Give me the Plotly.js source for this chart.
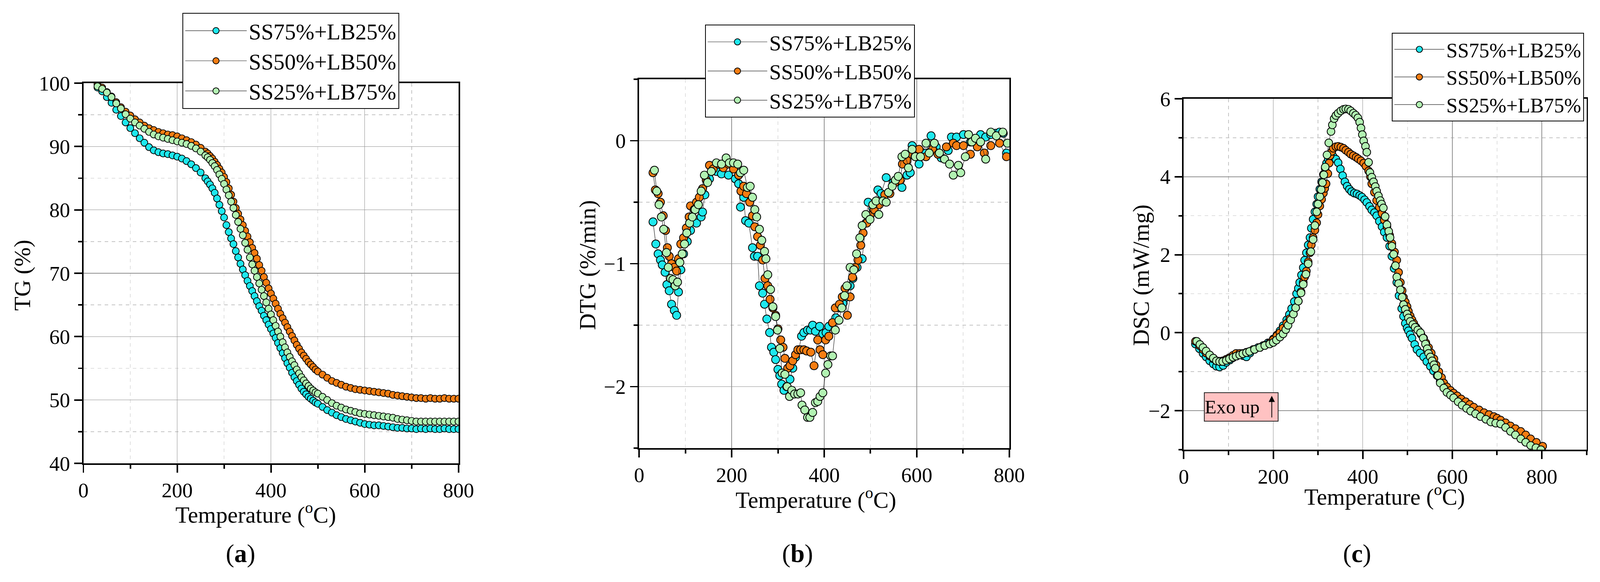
<!DOCTYPE html>
<html>
<head>
<meta charset="utf-8">
<script src="https://cdn.plot.ly/plotly-3.0.1.min.js"></script>
<style>
  html, body { margin: 0; padding: 0; background: white; overflow: hidden; }
  #chart { width: 100vw; height: 100vh; }
</style>
</head>
<body>
<div id="chart"></div>
<script>
// series names and colours
const seriesNames = ['SS75%+LB25%', 'SS50%+LB50%', 'SS25%+LB75%'];
const seriesColors = ['#1ee8ee', '#f57d12', '#b2f2b2'];

// (a) TG curves, shared temperature column
const tgT = [30, 40, 50, 60, 70, 80, 90, 100, 110, 120, 130, 140, 150, 160, 170, 180, 190, 200, 210, 220, 230, 240, 250,
  260, 265, 270, 275, 280, 285, 290, 295, 300, 305, 310, 315, 320, 325, 330, 335, 340, 345, 350, 355, 360, 365, 370, 375,
  380, 385, 390, 395, 400, 405, 410, 415, 420, 425, 430, 435, 440, 445, 450, 455, 460, 465, 470, 475, 480, 485, 490, 495, 500,
  510, 520, 530, 540, 550, 560, 570, 580, 590, 600, 610, 620, 630, 640, 650, 660, 670, 680, 690, 700,
  710, 720, 730, 740, 750, 760, 770, 780, 790, 800];
const tgSS75 = [99.3, 98.7, 97.8, 96.9, 95.8, 94.8, 93.8, 92.9, 92.1, 91.3, 90.6, 89.9, 89.4, 89.1, 88.9, 88.8, 88.6, 88.4, 88.1, 87.7, 87.2, 86.6, 85.9,
  85.0, 84.5, 84.0, 83.4, 82.7, 81.8, 80.8, 79.8, 78.8, 77.6, 76.5, 75.5, 74.6, 73.5, 72.5, 71.5, 70.6, 69.7, 68.8, 68.0, 67.2, 66.4, 65.6, 64.8,
  64.1, 63.3, 62.6, 61.9, 61.2, 60.5, 59.8, 59.0, 58.2, 57.4, 56.6, 55.8, 55.1, 54.3, 53.6, 53.0, 52.4, 51.8, 51.3, 50.9, 50.5, 50.2, 49.9, 49.6, 49.4,
  48.9, 48.4, 48.0, 47.6, 47.3, 47.0, 46.8, 46.6, 46.4, 46.2, 46.1, 46.0, 46.0, 45.9, 45.8, 45.7, 45.6, 45.6, 45.5, 45.5,
  45.4, 45.5, 45.4, 45.5, 45.4, 45.4, 45.5, 45.4, 45.4, 45.4];
const tgSS50 = [99.8, 99.3, 98.6, 97.9, 97.0, 96.2, 95.5, 94.9, 94.3, 93.8, 93.3, 92.9, 92.6, 92.3, 92.1, 91.9, 91.8, 91.6, 91.3, 91.0, 90.7, 90.3, 89.8,
  89.2, 88.9, 88.5, 88.1, 87.6, 87.1, 86.5, 85.9, 85.2, 84.4, 83.4, 82.4, 81.3, 80.3, 79.4, 78.5, 77.6, 76.7, 75.8, 74.9, 74.0, 73.2, 72.3, 71.3,
  70.4, 69.4, 68.5, 67.6, 66.8, 66.0, 65.2, 64.4, 63.6, 62.9, 62.2, 61.5, 60.8, 60.1, 59.4, 58.7, 58.1, 57.5, 57.0, 56.5, 56.0, 55.6, 55.2, 54.8, 54.5,
  54.0, 53.5, 53.0, 52.7, 52.4, 52.1, 51.9, 51.7, 51.6, 51.5, 51.4, 51.3, 51.2, 51.1, 51.0, 50.8, 50.7, 50.6, 50.5, 50.4,
  50.3, 50.3, 50.2, 50.3, 50.2, 50.2, 50.3, 50.2, 50.2, 50.2];
const tgSS25 = [99.5, 99.1, 98.5, 97.8, 96.8, 96.0, 95.1, 94.4, 93.8, 93.3, 92.8, 92.3, 91.9, 91.6, 91.4, 91.2, 91.0, 90.8, 90.6, 90.4, 90.1, 89.7, 89.2,
  88.6, 88.3, 87.9, 87.4, 86.9, 86.3, 85.6, 84.9, 84.1, 83.2, 82.3, 81.3, 80.3, 79.2, 78.1, 77.0, 76.0, 74.8, 73.7, 72.5, 71.4, 70.4, 69.4, 68.4,
  67.4, 66.4, 65.4, 64.4, 63.5, 62.6, 61.7, 60.8, 60.0, 59.1, 58.3, 57.5, 56.8, 56.1, 55.5, 54.8, 54.2, 53.6, 53.1, 52.6, 52.2, 51.8, 51.5, 51.2, 51.0,
  50.5, 50.0, 49.5, 49.1, 48.8, 48.5, 48.3, 48.1, 47.9, 47.8, 47.7, 47.6, 47.5, 47.4, 47.3, 47.2, 47.0, 46.9, 46.8, 46.7,
  46.6, 46.6, 46.6, 46.6, 46.6, 46.6, 46.6, 46.6, 46.6, 46.6];

// (b) DTG points, [temperature, value]
const dtgSS75 = [[30, -0.66], [36, -0.84], [41, -0.92], [46, -0.97], [50, -1.01], [56, -1.07], [60, -1.17], [65, -1.22], [70, -1.33], [76, -1.38],
  [81, -1.42], [85, -1.23], [90, -1.05], [96, -0.92], [104, -0.82], [111, -0.73], [124, -0.67], [134, -0.62], [137, -0.58], [142, -0.44],
  [152, -0.31], [167, -0.25], [178, -0.27], [193, -0.28], [208, -0.31], [215, -0.35], [219, -0.54], [226, -0.46], [230, -0.65], [237, -0.67],
  [245, -0.87], [249, -0.94], [256, -0.94], [260, -1.18], [267, -1.24], [271, -1.33], [276, -1.45], [282, -1.56], [286, -1.68], [291, -1.72],
  [295, -1.78], [300, -1.86], [304, -1.91], [308, -1.98], [313, -2.03], [319, -2.00], [326, -1.94], [332, -1.85], [338, -1.76], [345, -1.70],
  [351, -1.59], [356, -1.56], [364, -1.54], [370, -1.54], [375, -1.50], [381, -1.55], [390, -1.51], [397, -1.57], [404, -1.56], [410, -1.51],
  [418, -1.48], [425, -1.44], [434, -1.36], [441, -1.32], [449, -1.27], [456, -1.18], [462, -1.12], [471, -1.03], [482, -0.96], [490, -0.67],
  [495, -0.50], [505, -0.55], [516, -0.40], [523, -0.43], [534, -0.30], [549, -0.34], [560, -0.31], [568, -0.38], [579, -0.28], [586, -0.26],
  [590, -0.04], [605, -0.19], [620, -0.10], [631, 0.04], [642, -0.05], [653, -0.14], [668, -0.08], [675, 0.03], [686, 0.03], [701, 0.05],
  [716, -0.01], [727, 0.02], [738, 0.05], [749, 0.03], [760, 0.05], [770, 0.06], [779, 0.07], [787, 0.06], [794, -0.10]];
const dtgSS50 = [[30, -0.26], [35, -0.40], [41, -0.43], [46, -0.50], [52, -0.61], [57, -0.73], [61, -0.87], [65, -0.94], [70, -1.00], [76, -1.03],
  [81, -1.06], [85, -0.96], [90, -0.84], [96, -0.79], [102, -0.71], [108, -0.62], [111, -0.53], [119, -0.56], [124, -0.50], [130, -0.46],
  [137, -0.39], [145, -0.32], [152, -0.20], [160, -0.23], [171, -0.19], [182, -0.22], [193, -0.19], [204, -0.23], [215, -0.28], [220, -0.41],
  [226, -0.37], [232, -0.43], [239, -0.50], [245, -0.61], [250, -0.70], [256, -0.78], [262, -0.85], [267, -0.97], [272, -1.12], [278, -1.18],
  [283, -1.29], [289, -1.36], [295, -1.42], [300, -1.53], [306, -1.62], [311, -1.68], [315, -1.77], [321, -1.85], [326, -1.83], [332, -1.79],
  [338, -1.74], [343, -1.70], [349, -1.70], [356, -1.70], [362, -1.71], [371, -1.72], [378, -1.83], [386, -1.62], [391, -1.70], [397, -1.74],
  [403, -1.62], [410, -1.59], [418, -1.48], [424, -1.36], [433, -1.33], [439, -1.27], [445, -1.20], [450, -1.42], [456, -1.27], [461, -1.11],
  [467, -1.03], [473, -0.97], [479, -0.85], [484, -0.75], [492, -0.67], [499, -0.61], [508, -0.56], [519, -0.52], [531, -0.44], [542, -0.43],
  [553, -0.34], [564, -0.32], [569, -0.19], [579, -0.16], [590, -0.11], [605, -0.07], [620, -0.13], [634, -0.07], [646, -0.11], [664, -0.05],
  [679, -0.02], [686, -0.04], [701, -0.04], [716, -0.11], [731, -0.05], [746, -0.10], [760, -0.04], [779, -0.02], [794, -0.13]];
const dtgSS25 = [[33, -0.24], [38, -0.41], [43, -0.52], [48, -0.62], [53, -0.72], [59, -0.91], [63, -1.03], [68, -1.12], [73, -1.13], [78, -1.18],
  [83, -1.15], [88, -0.99], [93, -0.92], [98, -0.84], [103, -0.75], [109, -0.67], [115, -0.62], [121, -0.56], [128, -0.52], [134, -0.41],
  [141, -0.28], [148, -0.34], [156, -0.25], [167, -0.18], [178, -0.19], [188, -0.14], [195, -0.18], [204, -0.18], [213, -0.19], [219, -0.26],
  [226, -0.24], [234, -0.38], [240, -0.37], [245, -0.46], [250, -0.56], [254, -0.62], [260, -0.72], [265, -0.81], [271, -0.90], [274, -0.96],
  [278, -1.09], [284, -1.21], [289, -1.35], [295, -1.43], [299, -1.54], [304, -1.69], [309, -1.89], [315, -1.90], [320, -2.00], [325, -2.08],
  [330, -2.03], [336, -2.06], [343, -2.06], [349, -2.05], [352, -2.15], [358, -2.19], [364, -2.25], [369, -2.25], [375, -2.21], [381, -2.13],
  [386, -2.12], [391, -2.08], [397, -2.05], [403, -1.89], [408, -1.82], [414, -1.75], [418, -1.75], [424, -1.54], [432, -1.46], [438, -1.36],
  [444, -1.26], [449, -1.18], [456, -1.03], [464, -1.05], [470, -0.92], [477, -0.79], [482, -0.69], [490, -0.60], [499, -0.64], [505, -0.52],
  [512, -0.49], [518, -0.60], [527, -0.49], [534, -0.50], [539, -0.42], [547, -0.37], [554, -0.32], [560, -0.29], [568, -0.13], [575, -0.11],
  [582, -0.22], [590, -0.07], [597, -0.13], [608, -0.13], [620, -0.02], [627, -0.10], [638, -0.02], [649, -0.10], [660, -0.15], [671, -0.19],
  [679, -0.28], [690, -0.20], [695, -0.26], [705, -0.13], [712, 0.05], [719, -0.01], [727, 0.02], [738, -0.01], [749, -0.15], [760, 0.07],
  [772, 0.04], [786, 0.07], [796, -0.02]];

// (c) DSC points, [temperature, value]
const dscSS75 = [[26, -0.29], [35, -0.41], [43, -0.53], [50, -0.62], [58, -0.72], [66, -0.80], [73, -0.86], [80, -0.88], [88, -0.84], [95, -0.76],
  [103, -0.70], [110, -0.64], [118, -0.60], [125, -0.57], [133, -0.59], [140, -0.62], [148, -0.52], [155, -0.43], [166, -0.38], [177, -0.33],
  [188, -0.26], [200, -0.16], [208, -0.06], [215, 0.05], [222, 0.18], [230, 0.33], [236, 0.47], [241, 0.62], [247, 0.80], [252, 1.00],
  [256, 1.14], [259, 1.29], [263, 1.48], [267, 1.67], [270, 1.86], [274, 2.05], [278, 2.25], [282, 2.44], [285, 2.68], [289, 2.91],
  [293, 3.10], [297, 3.30], [300, 3.49], [304, 3.68], [308, 3.87], [312, 4.06], [316, 4.22], [319, 4.35], [323, 4.45], [327, 4.50],
  [334, 4.52], [340, 4.45], [345, 4.36], [350, 4.20], [355, 4.03], [360, 3.87], [365, 3.76], [370, 3.68], [375, 3.62], [381, 3.58],
  [387, 3.56], [393, 3.52], [398, 3.48], [404, 3.41], [409, 3.34], [415, 3.24], [420, 3.15], [426, 3.08], [431, 3.00], [437, 2.86],
  [443, 2.72], [448, 2.58], [454, 2.44], [460, 2.22], [465, 1.96], [470, 1.65], [476, 1.29], [481, 0.95], [487, 0.62], [491, 0.42],
  [495, 0.24], [499, 0.12], [502, 0.05], [506, -0.05], [510, -0.14], [516, -0.30], [521, -0.43], [528, -0.52], [536, -0.62], [543, -0.74],
  [551, -0.86], [558, -0.98], [566, -1.10], [573, -1.24], [581, -1.38], [588, -1.47], [596, -1.55], [611, -1.67], [630, -1.82], [648, -1.95],
  [671, -2.10], [693, -2.22], [708, -2.29], [730, -2.45], [753, -2.60], [775, -2.78], [800, -2.95]];
const dscSS50 = [[26, -0.22], [35, -0.33], [43, -0.43], [50, -0.52], [58, -0.60], [66, -0.67], [73, -0.72], [80, -0.73], [87, -0.72], [95, -0.68],
  [102, -0.64], [110, -0.58], [117, -0.53], [125, -0.53], [132, -0.53], [140, -0.50], [147, -0.48], [158, -0.43], [170, -0.38], [181, -0.32],
  [192, -0.26], [200, -0.18], [208, -0.08], [215, 0.00], [222, 0.12], [230, 0.24], [237, 0.36], [245, 0.48], [250, 0.64], [256, 0.81],
  [262, 1.05], [267, 1.29], [270, 1.43], [274, 1.58], [278, 1.82], [282, 2.05], [285, 2.25], [289, 2.44], [293, 2.63], [297, 2.82],
  [300, 3.03], [304, 3.25], [308, 3.42], [312, 3.58], [315, 3.70], [318, 3.82], [322, 4.08], [325, 4.35], [327, 4.54], [331, 4.65],
  [334, 4.73], [340, 4.77], [345, 4.78], [351, 4.76], [357, 4.73], [362, 4.68], [368, 4.63], [373, 4.58], [379, 4.54], [385, 4.50],
  [390, 4.46], [396, 4.41], [402, 4.35], [407, 4.27], [413, 4.15], [417, 4.00], [420, 3.82], [426, 3.60], [431, 3.39], [437, 3.22],
  [443, 3.06], [448, 2.89], [454, 2.72], [460, 2.50], [465, 2.29], [471, 2.07], [476, 1.86], [480, 1.55], [484, 1.29], [488, 1.08],
  [491, 0.91], [495, 0.79], [499, 0.67], [502, 0.55], [506, 0.43], [510, 0.33], [514, 0.24], [519, 0.14], [525, 0.05], [530, -0.04],
  [536, -0.14], [541, -0.26], [547, -0.38], [553, -0.52], [559, -0.67], [564, -0.83], [570, -1.00], [576, -1.15], [581, -1.29], [588, -1.39],
  [596, -1.48], [603, -1.55], [611, -1.62], [620, -1.70], [630, -1.77], [639, -1.84], [648, -1.91], [660, -1.98], [671, -2.05], [682, -2.10],
  [693, -2.15], [700, -2.19], [708, -2.24], [719, -2.31], [730, -2.39], [741, -2.46], [753, -2.53], [764, -2.62], [775, -2.72], [788, -2.81],
  [802, -2.91]];
const dscSS25 = [[29, -0.22], [36, -0.30], [43, -0.38], [50, -0.47], [58, -0.57], [66, -0.65], [73, -0.72], [80, -0.74], [87, -0.74], [95, -0.71],
  [102, -0.67], [110, -0.63], [117, -0.60], [125, -0.57], [132, -0.54], [140, -0.51], [147, -0.48], [158, -0.43], [170, -0.38], [181, -0.33],
  [192, -0.29], [200, -0.25], [207, -0.19], [215, -0.11], [222, -0.03], [228, 0.08], [233, 0.19], [239, 0.33], [245, 0.48], [250, 0.64],
  [256, 0.81], [262, 1.02], [267, 1.24], [273, 1.50], [278, 1.77], [284, 2.08], [289, 2.39], [293, 2.75], [297, 3.10], [300, 3.30],
  [304, 3.49], [307, 3.67], [310, 3.85], [313, 4.05], [316, 4.25], [320, 4.56], [324, 4.87], [329, 5.16], [332, 5.33], [336, 5.49],
  [340, 5.57], [345, 5.63], [351, 5.69], [357, 5.73], [362, 5.74], [368, 5.73], [373, 5.69], [379, 5.63], [384, 5.58], [389, 5.51],
  [393, 5.40], [396, 5.25], [399, 5.08], [402, 4.92], [406, 4.78], [409, 4.63], [413, 4.37], [416, 4.11], [420, 3.99], [424, 3.87],
  [428, 3.75], [431, 3.63], [435, 3.51], [439, 3.39], [442, 3.30], [446, 3.20], [450, 2.98], [454, 2.77], [458, 2.60], [461, 2.44],
  [465, 2.22], [469, 2.01], [473, 1.72], [476, 1.43], [480, 1.26], [484, 1.10], [488, 0.91], [491, 0.72], [495, 0.60], [499, 0.48],
  [502, 0.38], [506, 0.29], [512, 0.21], [517, 0.14], [523, 0.07], [529, 0.00], [535, -0.14], [540, -0.29], [544, -0.41], [547, -0.53],
  [551, -0.62], [555, -0.72], [559, -0.82], [562, -0.91], [568, -1.10], [573, -1.29], [581, -1.42], [588, -1.53], [596, -1.60], [603, -1.67],
  [613, -1.77], [622, -1.86], [632, -1.94], [641, -2.01], [652, -2.08], [663, -2.15], [675, -2.22], [686, -2.29], [697, -2.32], [708, -2.34],
  [719, -2.43], [730, -2.53], [741, -2.62], [753, -2.72], [764, -2.81], [775, -2.89], [787, -2.95], [798, -3.00]];

const FONT = '"Liberation Serif", "DejaVu Serif", serif';
// the layout is worked out on a 4163 x 1491 page and scaled to the real viewport
const REF_W = 4163, REF_H = 1491;
const W = window.innerWidth || REF_W;
const H = window.innerHeight || REF_H;
const k = Math.min(W / REF_W, H / REF_H);
const S = v => v * k;
const px = v => v / REF_W;
const py = v => 1 - v / REF_H;

function makeTrace(x, y, i, axis, legend, size) {
  return {
    type: 'scatter',
    mode: 'lines+markers',
    name: seriesNames[i],
    x: x,
    y: y,
    xaxis: 'x' + axis,
    yaxis: 'y' + axis,
    legend: legend,
    line: { color: '#222222', width: S(1.2) },
    marker: { color: seriesColors[i], size: S(size), line: { color: 'black', width: S(2) } }
  };
}

const traces = [];
[tgSS75, tgSS50, tgSS25].forEach((ys, i) => traces.push(makeTrace(tgT, ys, i, '', 'legend', 18)));
[dtgSS75, dtgSS50, dtgSS25].forEach((pts, i) =>
  traces.push(makeTrace(pts.map(p => p[0]), pts.map(p => p[1]), i, '2', 'legend2', 21)));
[dscSS75, dscSS50, dscSS25].forEach((pts, i) =>
  traces.push(makeTrace(pts.map(p => p[0]), pts.map(p => p[1]), i, '3', 'legend3', 20)));

function axis(extra) {
  return Object.assign({
    showline: true, linewidth: S(4), linecolor: 'black', mirror: true,
    ticks: 'outside', ticklen: S(20), tickwidth: S(4), tickcolor: 'black',
    showgrid: true, gridcolor: '#8f8f8f', gridwidth: S(1.5), zeroline: false,
    tickfont: { family: FONT, size: S(54), color: 'black' },
    fixedrange: true
  }, extra);
}
function minor(dtick) {
  return { dtick: dtick, ticks: 'outside', ticklen: S(10), tickwidth: S(4), tickcolor: 'black',
    showgrid: true, gridcolor: '#c4c4c4', gridwidth: S(1.5), griddash: 'dash' };
}

// legends are pinned by their top-right corner
function legendBox(right, top, size, itemwidth) {
  return {
    x: px(right), y: py(top), xanchor: 'right', yanchor: 'top',
    bgcolor: 'white', bordercolor: 'black', borderwidth: S(2),
    font: { family: FONT, size: S(size), color: 'black' },
    itemwidth: Math.max(30, S(itemwidth))
  };
}

// axis titles and panel letters, placed where the reference has them
const tempTitle = 'Temperature (<sup>o</sup>C)';
const titleSpecs = [
  { text: 'TG (%)', x: 58, y: 705, textangle: -90 },
  { text: tempTitle, x: 665, y: 1314 },
  { text: 'DTG (%/min)', x: 1529, y: 679, textangle: -90 },
  { text: tempTitle, x: 2123, y: 1276 },
  { text: 'DSC (mW/mg)', x: 2969, y: 705, textangle: -90 },
  { text: tempTitle, x: 3602, y: 1268 }
];
const panelLabels = [
  { text: '(<b>a</b>)', x: 626, y: 1418 },
  { text: '(<b>b</b>)', x: 2075, y: 1418 },
  { text: '(<b>c</b>)', x: 3531, y: 1418 }
];

const annotations = [];
titleSpecs.forEach(t => annotations.push({
  text: t.text, x: px(t.x), y: py(t.y), xref: 'paper', yref: 'paper', showarrow: false,
  xanchor: 'center', yanchor: 'middle', textangle: t.textangle || 0,
  font: { family: FONT, size: S(60), color: 'black' }
}));
panelLabels.forEach(t => annotations.push({
  text: t.text, x: px(t.x), y: py(t.y), xref: 'paper', yref: 'paper', showarrow: false,
  xanchor: 'center', yanchor: 'middle', font: { family: FONT, size: S(66), color: 'black' }
}));
// "Exo up" box with its arrow
annotations.push({
  text: 'Exo up', x: px(3132), y: py(1042), xref: 'paper', yref: 'paper', showarrow: false,
  xanchor: 'left', yanchor: 'middle', align: 'left', width: S(190), height: S(72), borderpad: 0,
  font: { family: FONT, size: S(50), color: 'black' },
  bgcolor: '#ffc2c2', bordercolor: '#222222', borderwidth: S(2)
});
annotations.push({
  text: '', x: px(3309), y: py(1014), xref: 'paper', yref: 'paper',
  showarrow: true, ax: 0, ay: S(58), arrowhead: 2, arrowsize: 1.6, arrowwidth: S(2), arrowcolor: 'black'
});

const layout = {
  width: W, height: H,
  margin: { l: 0, r: 0, t: 0, b: 0 },
  paper_bgcolor: 'white', plot_bgcolor: 'white',
  showlegend: true,
  xaxis: axis({ domain: [px(217), px(1193)], anchor: 'y', range: [0, 800], tick0: 0, dtick: 200, minor: minor(100) }),
  yaxis: axis({ domain: [py(1187), py(213)], anchor: 'x', range: [40, 100], tick0: 40, dtick: 10, minor: minor(5) }),
  xaxis2: axis({ domain: [px(1663), px(2626)], anchor: 'y2', range: [0, 800], tick0: 0, dtick: 200, minor: minor(100) }),
  yaxis2: axis({ domain: [py(1148), py(203)], anchor: 'x2', range: [-2.5, 0.5], tick0: 0, dtick: 1, minor: minor(0.5) }),
  xaxis3: axis({ domain: [px(3080), px(4128)], anchor: 'y3', range: [0, 900], tick0: 0, dtick: 200, minor: minor(100) }),
  yaxis3: axis({ domain: [py(1152), py(253)], anchor: 'x3', range: [-3, 6], tick0: 0, dtick: 2, minor: minor(1) }),
  legend: legendBox(1039, 33, 58, 160),
  legend2: legendBox(2380, 63, 56, 155),
  legend3: legendBox(4121, 84, 53, 130),
  annotations: annotations
};

Plotly.newPlot('chart', traces, layout, { staticPlot: true });
</script>
</body>
</html>
